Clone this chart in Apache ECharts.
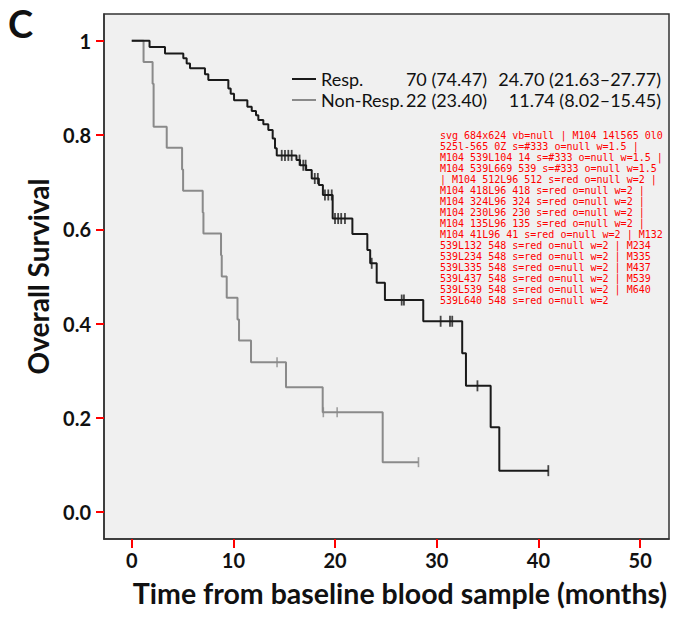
<!DOCTYPE html>
<html>
<head>
<meta charset="utf-8">
<script src="https://cdn.jsdelivr.net/npm/echarts@6/dist/echarts.min.js"></script>
<style>
  html, body { margin: 0; background: #fff; }
  #main { width: 684px; height: 624px; }
  #dbg { position: absolute; left: 440px; top: 130px; width: 225px; font: 10px monospace; color: red; }
</style>
</head>
<body>
<div id="main"></div>
<div id="dbg"></div>
<script>
var respSteps = [
  [0, 1], [1.75, 0.987], [3.27, 0.973], [5.07, 0.963], [5.4, 0.952], [5.73, 0.942],
  [7.2, 0.929], [7.53, 0.917], [9.5, 0.899], [9.73, 0.888], [10.06, 0.874],
  [11.37, 0.86], [11.8, 0.851], [12.22, 0.842], [12.45, 0.832], [12.94, 0.823],
  [13.43, 0.811], [13.86, 0.793], [14.09, 0.772], [14.26, 0.757], [16.2, 0.747],
  [16.55, 0.736], [17.15, 0.726], [17.7, 0.708], [18.4, 0.694], [18.8, 0.673],
  [19.76, 0.623], [21.7, 0.59], [23.17, 0.556], [23.45, 0.528], [24.09, 0.487],
  [24.9, 0.45], [28.67, 0.405], [32.5, 0.337], [32.87, 0.268], [35.3, 0.18],
  [36.15, 0.088], [40.97, 0.088]
];
var respCensored = [14.75, 15.07, 15.4, 15.73, 16.5, 16.87, 17.1, 18.0, 18.3, 19.0,
  19.33, 19.67, 19.99, 20.3, 20.6, 20.97, 23.6, 26.55, 26.77, 30.38, 31.3, 31.52, 34.0, 40.97];
var nonRespSteps = [
  [0, 1], [1.16, 0.955], [2.05, 0.909], [2.15, 0.818], [3.44, 0.773], [4.95, 0.727],
  [5.05, 0.682], [6.98, 0.636], [7.05, 0.591], [8.78, 0.545], [8.85, 0.5],
  [9.34, 0.455], [10.4, 0.409], [10.55, 0.364], [11.73, 0.318], [15.17, 0.265],
  [18.78, 0.212], [24.68, 0.106], [28.2, 0.106]
];
var nonRespCensored = [14.29, 18.84, 20.2, 28.2];
var groups = ['Resp.', 'Non-Resp.'];
var groupN = ['70 (74.47)', '22 (23.40)'];
var groupOS = ['24.70 (21.63–27.77)', '11.74 (8.02–15.45)'];
var xTicks = [0, 10, 20, 30, 40, 50];
var yTicks = [0, 0.2, 0.4, 0.6, 0.8, 1];
var xMin = -2.73, xMax = 52.84;
var yMin = -0.057, yMax = 1.057;
var font = 'Lato, "Open Sans", sans-serif';
var ink = '#111';
var frame = '#333';
function levelAt(steps, t) {
  var s = steps[0][1];
  for (var i = 0; i < steps.length; i++) { if (steps[i][0] <= t) s = steps[i][1]; }
  return s;
}
function censorPoints(steps, times) { return times.map(function (t) { return [t, levelAt(steps, t)]; }); }
var chart = echarts.init(document.getElementById('main'), null, { renderer: 'svg' });
var legendRich = {
  a: { width: 80, fontFamily: font, fontSize: 18, color: ink, lineHeight: 22 },
  b: { width: 86, align: 'right', fontFamily: font, fontSize: 18, color: ink, lineHeight: 22 },
  c: { width: 174, align: 'right', fontFamily: font, fontSize: 18, color: ink, lineHeight: 22 }
};
chart.setOption({
  animation: false,
  grid: { left: 104, right: 15, top: 14, bottom: 85, show: true, backgroundColor: '#f0f0f0', borderColor: frame, borderWidth: 1.5 },
  xAxis: {
    type: 'value', min: xMin, max: xMax, splitLine: { show: false },
    axisLine: { show: true, onZero: false, lineStyle: { color: frame, width: 1.5 } },
    axisTick: { show: true, customValues: xTicks, length: 9, lineStyle: { color: 'red', width: 2 } },
    axisLabel: { customValues: xTicks, margin: 11, fontFamily: font, fontWeight: 'bold', fontSize: 20, color: ink }
  },
  yAxis: {
    type: 'value', min: yMin, max: yMax, splitLine: { show: false },
    axisLine: { show: true, onZero: false, lineStyle: { color: frame, width: 1.5 } },
    axisTick: { show: true, customValues: yTicks, length: 8, lineStyle: { color: 'red', width: 2 } },
    axisLabel: { customValues: yTicks, margin: 13, fontFamily: font, fontWeight: 'bold', fontSize: 20, color: ink,
      formatter: function (v) { return v === 1 ? '1' : v.toFixed(1); } },
    name: 'Overall Survival', nameLocation: 'middle', nameGap: 50,
    nameTextStyle: { fontFamily: font, fontWeight: 'bold', fontSize: 28, color: ink }
  },
  legend: {
    data: groups, orient: 'vertical', left: 287, top: 65, icon: 'rect', itemWidth: 24, itemHeight: 2, itemGap: 3, selectedMode: false,
    textStyle: { fontFamily: font, fontSize: 18, color: ink, rich: legendRich },
    formatter: function (name) { var i = groups.indexOf(name); return '{a|' + name + '}{b|' + groupN[i] + '}{c|' + groupOS[i] + '}'; }
  },
  graphic: [
    { type: 'text', x: 8, y: 4, style: { text: 'C', font: 'bold 38px ' + font, fill: ink } },
    { type: 'text', x: 400, y: 593, style: { text: 'Time from baseline blood sample (months)', font: 'bold 28.5px ' + font, fill: ink, textAlign: 'center', textVerticalAlign: 'middle' } }
  ],
  series: [
    { name: 'Non-Resp.', type: 'line', step: 'end', data: nonRespSteps, symbol: 'none', color: '#8a8a8a', lineStyle: { width: 2 }, z: 2 },
    { name: 'Non-Resp. censored', type: 'scatter', data: censorPoints(nonRespSteps, nonRespCensored), symbol: 'rect', symbolSize: [1.6, 10], itemStyle: { color: '#8a8a8a' }, z: 2 },
    { name: 'Resp.', type: 'line', step: 'end', data: respSteps, symbol: 'none', color: '#1a1a1a', lineStyle: { width: 2 }, z: 3 },
    { name: 'Resp. censored', type: 'scatter', data: censorPoints(respSteps, respCensored), symbol: 'rect', symbolSize: [1.8, 11], itemStyle: { color: '#1a1a1a' }, z: 4 }
  ]
});
var info = [];
document.querySelectorAll('#main svg path').forEach(function (p) {
  var d = p.getAttribute('d') || '';
  if (d.length < 30) info.push(d + ' s=' + p.getAttribute('stroke') + ' o=' + p.getAttribute('stroke-opacity') + ' w=' + p.getAttribute('stroke-width'));
});
var svg = document.querySelector('#main svg');
info.unshift('svg ' + svg.getAttribute('width') + 'x' + svg.getAttribute('height') + ' vb=' + svg.getAttribute('viewBox'));
document.getElementById('dbg').textContent = info.slice(0, 16).join(' | ');
</script>
</body>
</html>
